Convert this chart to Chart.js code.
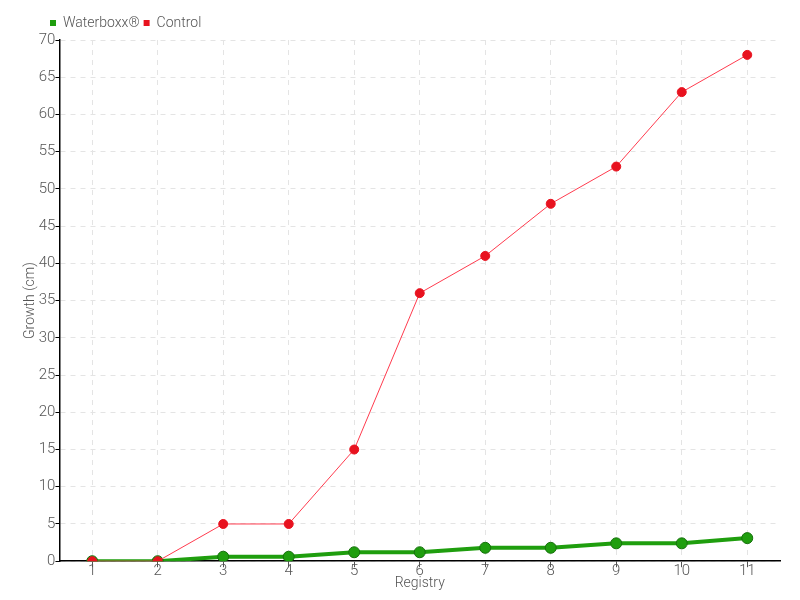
<!DOCTYPE html>
<html lang="en">
<head>
  <meta charset="UTF-8" />
  <title>Growth chart</title>
  <script src="https://cdn.jsdelivr.net/npm/chart.js"></script>
  <style>
    body { margin: 0; background: #fff; }
    #wrap { width: 800px; height: 600px; }
  </style>
</head>
<body>
  <div id="wrap"><canvas id="chart" width="800" height="600"></canvas></div>
  <script>
    const registros = ['1', '2', '3', '4', '5', '6', '7', '8', '9', '10', '11'];
    const waterboxx = [0, 0, 0.6, 0.6, 1.2, 1.2, 1.8, 1.8, 2.4, 2.4, 3.1];
    const controle = [0, 0, 5, 5, 15, 36, 41, 48, 53, 63, 68];

    Chart.defaults.font.family = "Roboto, sans-serif";
    Chart.defaults.font.weight = '300';
    Chart.defaults.color = '#555';

    // a legenda fica um pouco mais para a direita
    const moverLegenda = {
      id: 'moverLegenda',
      afterLayout(chart) {
        chart.legend.left += 24;
        chart.legend.right += 24;
      }
    };

    new Chart(document.getElementById('chart'), {
      type: 'line',
      data: {
        labels: registros,
        datasets: [{
          label: 'Waterboxx®',
          data: waterboxx,
          order: 1,
          borderColor: '#1f9e0e',
          backgroundColor: '#1f9e0e',
          borderWidth: 4,
          pointRadius: 5.5,
          pointBackgroundColor: '#1f9e0e',
          pointBorderColor: '#16700c',
          pointBorderWidth: 1,
          tension: 0
        }, {
          label: 'Control',
          data: controle,
          order: 0,
          borderColor: '#ff3b4e',
          backgroundColor: '#e8121f',
          borderWidth: 1,
          pointRadius: 4.5,
          pointBackgroundColor: '#e8121f',
          pointBorderColor: '#e8121f',
          tension: 0
        }]
      },
      options: {
        responsive: false,
        animation: false,
        layout: { padding: { left: 22, right: 20, top: 12, bottom: 8 } },
        plugins: {
          legend: {
            align: 'start',
            labels: {
              boxWidth: 6,
              boxHeight: 6,
              padding: 4,
              font: { size: 14, weight: '300' },
              color: '#555',
              generateLabels: chart => chart.data.datasets.map((d, i) => ({
                text: d.label,
                fillStyle: d.backgroundColor,
                strokeStyle: d.backgroundColor,
                lineWidth: 0,
                datasetIndex: i,
                fontColor: '#555'
              }))
            }
          },
          tooltip: { enabled: false }
        },
        scales: {
          x: {
            offset: true,
            title: { display: true, text: 'Registry', font: { size: 14 }, padding: 0 },
            grid: { color: '#e4e4e4', tickColor: '#555', tickLength: 6, offset: false },
            border: { color: '#000', width: 1.5, dash: [5, 5] },
            ticks: { font: { size: 15 }, padding: -5 }
          },
          y: {
            min: 0,
            max: 70,
            title: { display: true, text: 'Growth (cm)', font: { size: 14 }, padding: 0 },
            grid: { color: '#e4e4e4', tickColor: '#000', tickLength: 4 },
            border: { color: '#000', width: 1.5, dash: [5, 5] },
            ticks: { stepSize: 5, font: { size: 15 }, padding: 0 }
          }
        }
      },
      plugins: [moverLegenda]
    });
  </script>
</body>
</html>
